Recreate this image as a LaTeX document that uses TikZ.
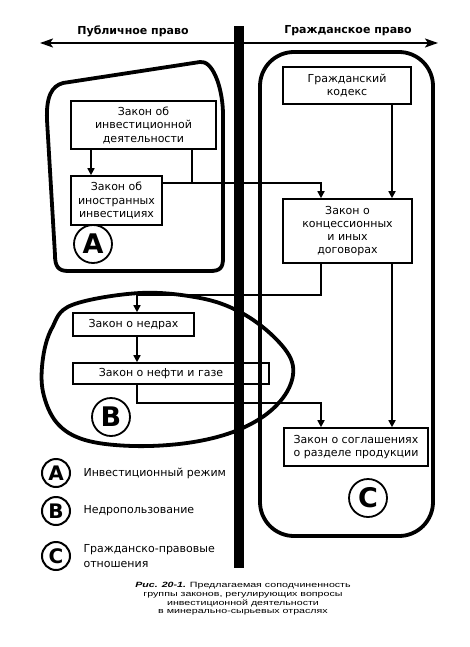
\documentclass[tikz,border=0pt]{standalone}
\usepackage{fontspec}
\setmainfont{DejaVu Sans}
\newfontfamily\capfont[FakeStretch=1.4]{Liberation Sans}
\usetikzlibrary{arrows.meta}
\begin{document}
\begin{tikzpicture}[x=1pt,y=-1pt,
  region/.style={line width=3.8pt, line join=round},
  lawbox/.style={draw, line width=1.6pt, inner sep=0pt, align=center, font=\fontsize{11}{13.5}\selectfont},
  conn/.style={line width=1.6pt, -{Triangle[length=7pt,width=7pt]}},
  plainline/.style={line width=1.6pt},
  bigmark/.style={circle, draw, line width=1.8pt, minimum size=38pt, inner sep=0pt, font=\bfseries\fontsize{27}{27}\selectfont},
  smallmark/.style={circle, draw, line width=2pt, minimum size=28pt, inner sep=0pt, font=\bfseries\fontsize{20}{20}\selectfont},
  legtext/.style={anchor=west, align=left, font=\fontsize{11}{14.5}\selectfont},
  head/.style={font=\bfseries\fontsize{11}{13}\selectfont}
]
\fill[white] (0,0) rectangle (470,647);
\useasboundingbox (0,0) rectangle (470,647);

% column / junction coordinates
\coordinate (c91) at (91,0);
\coordinate (c321) at (321,0);
\coordinate (c392) at (392,0);
\coordinate (j1) at (192,183);
\coordinate (k1) at (137,295);
\coordinate (k2) at (137,403);
\coordinate (L) at (40,43);
\coordinate (R) at (438,43);

% headers
\node[head] (hpub) at (133,31) {Публичное право};
\node[head] (hciv) at (348,31) {Гражданское право};
\draw[line width=2pt, {Stealth[length=13pt,width=9pt,inset=3pt]}-{Stealth[length=13pt,width=9pt,inset=3pt]}] (L) -- (R);

% region A outline
\draw[region] (63,83) -- (200,62) .. controls (212,60) and (222,85) .. (223,112)
  -- (223,258) .. controls (223,268) and (220,271) .. (210,271)
  -- (68,271) .. controls (58,271) and (55,266) .. (55,255)
  -- (47,120) .. controls (46,96) and (52,86) .. (63,83) -- cycle;

% region C outline
\draw[region, rounded corners=34pt] (260,52) rectangle (433,536);

% region B outline
\draw[region] plot[smooth cycle, tension=0.6] coordinates {
  (140,293) (200,298) (240,312) (273,336) (292,362) (289,388) (268,413)
  (233,432) (187,443) (133,446) (85,440) (57,423) (43,392) (43,358)
  (52,328) (72,305)};

% law boxes
\node[lawbox, minimum width=145pt, minimum height=48pt] (inv) at (143.5,125) {Закон об\\инвестиционной\\деятельности};
\node[lawbox, minimum width=91pt, minimum height=49pt] (for) at (116.5,200.5) {Закон об\\иностранных\\инвестициях};
\node[lawbox, minimum width=128pt, minimum height=37pt] (gk) at (347,85.5) {Гражданский\\кодекс};
\node[lawbox, minimum width=129pt, minimum height=64pt, font=\fontsize{11}{12.8}\selectfont] (conc) at (347.5,231) {Закон о\\концессионных\\и иных\\договорах};
\node[lawbox, minimum width=121pt, minimum height=23pt] (ned) at (133.5,324.5) {Закон о недрах};
\node[lawbox, minimum width=196pt, minimum height=21pt] (neft) at (171,373.5) {Закон о нефти и газе\hspace{20pt}};
\node[lawbox, minimum width=144pt, minimum height=38pt] (srp) at (356,447) {Закон о соглашениях\\о разделе продукции};

% connectors
\draw[conn] (inv.south -| c91) -- (for.north -| c91);
\draw[plainline] (inv.south -| j1) -- (j1);
\draw[conn] (for.east |- j1) -- (j1 -| c321) -- (conc.north -| c321);
\draw[conn] (gk.south -| c392) -- (conc.north -| c392);
\draw[conn] (conc.south -| c321) |- (k1) -- (ned.north -| k1);
\draw[conn] (ned.south -| k1) -- (neft.north -| k1);
\draw[conn] (neft.south -| k2) -- (k2) -- (k2 -| c321) -- (srp.north -| c321);
\draw[conn] (conc.south -| c392) -- (srp.north -| c392);

% region marks
\node[bigmark] (ma) at (93,244) {A};
\node[bigmark] (mb) at (111,417) {B};
\node[bigmark] (mc) at (368,498) {C};

% central bar
\fill (234,26) rectangle (244,568);

% legend
\node[smallmark] (la) at (56,473) {A};
\node[legtext] (ta) at (80,473) {Инвестиционный режим};
\node[smallmark] (lb) at (56,511) {B};
\node[legtext] (tb) at (80,511) {Недропользование};
\node[smallmark] (lc) at (56,556) {C};
\node[legtext] (tc) at (80,556) {Гражданско-правовые\\отношения};

% caption
\node[align=center, font=\capfont\fontsize{7.6}{8.7}\selectfont] (cap) at (243,599)
  {{\bfseries\itshape Рис. 20-1.} Предлагаемая соподчиненность\\группы законов, регулирующих вопросы\\инвестиционной деятельности\\в минерально-сырьевых отраслях};
\end{tikzpicture}
\end{document}
